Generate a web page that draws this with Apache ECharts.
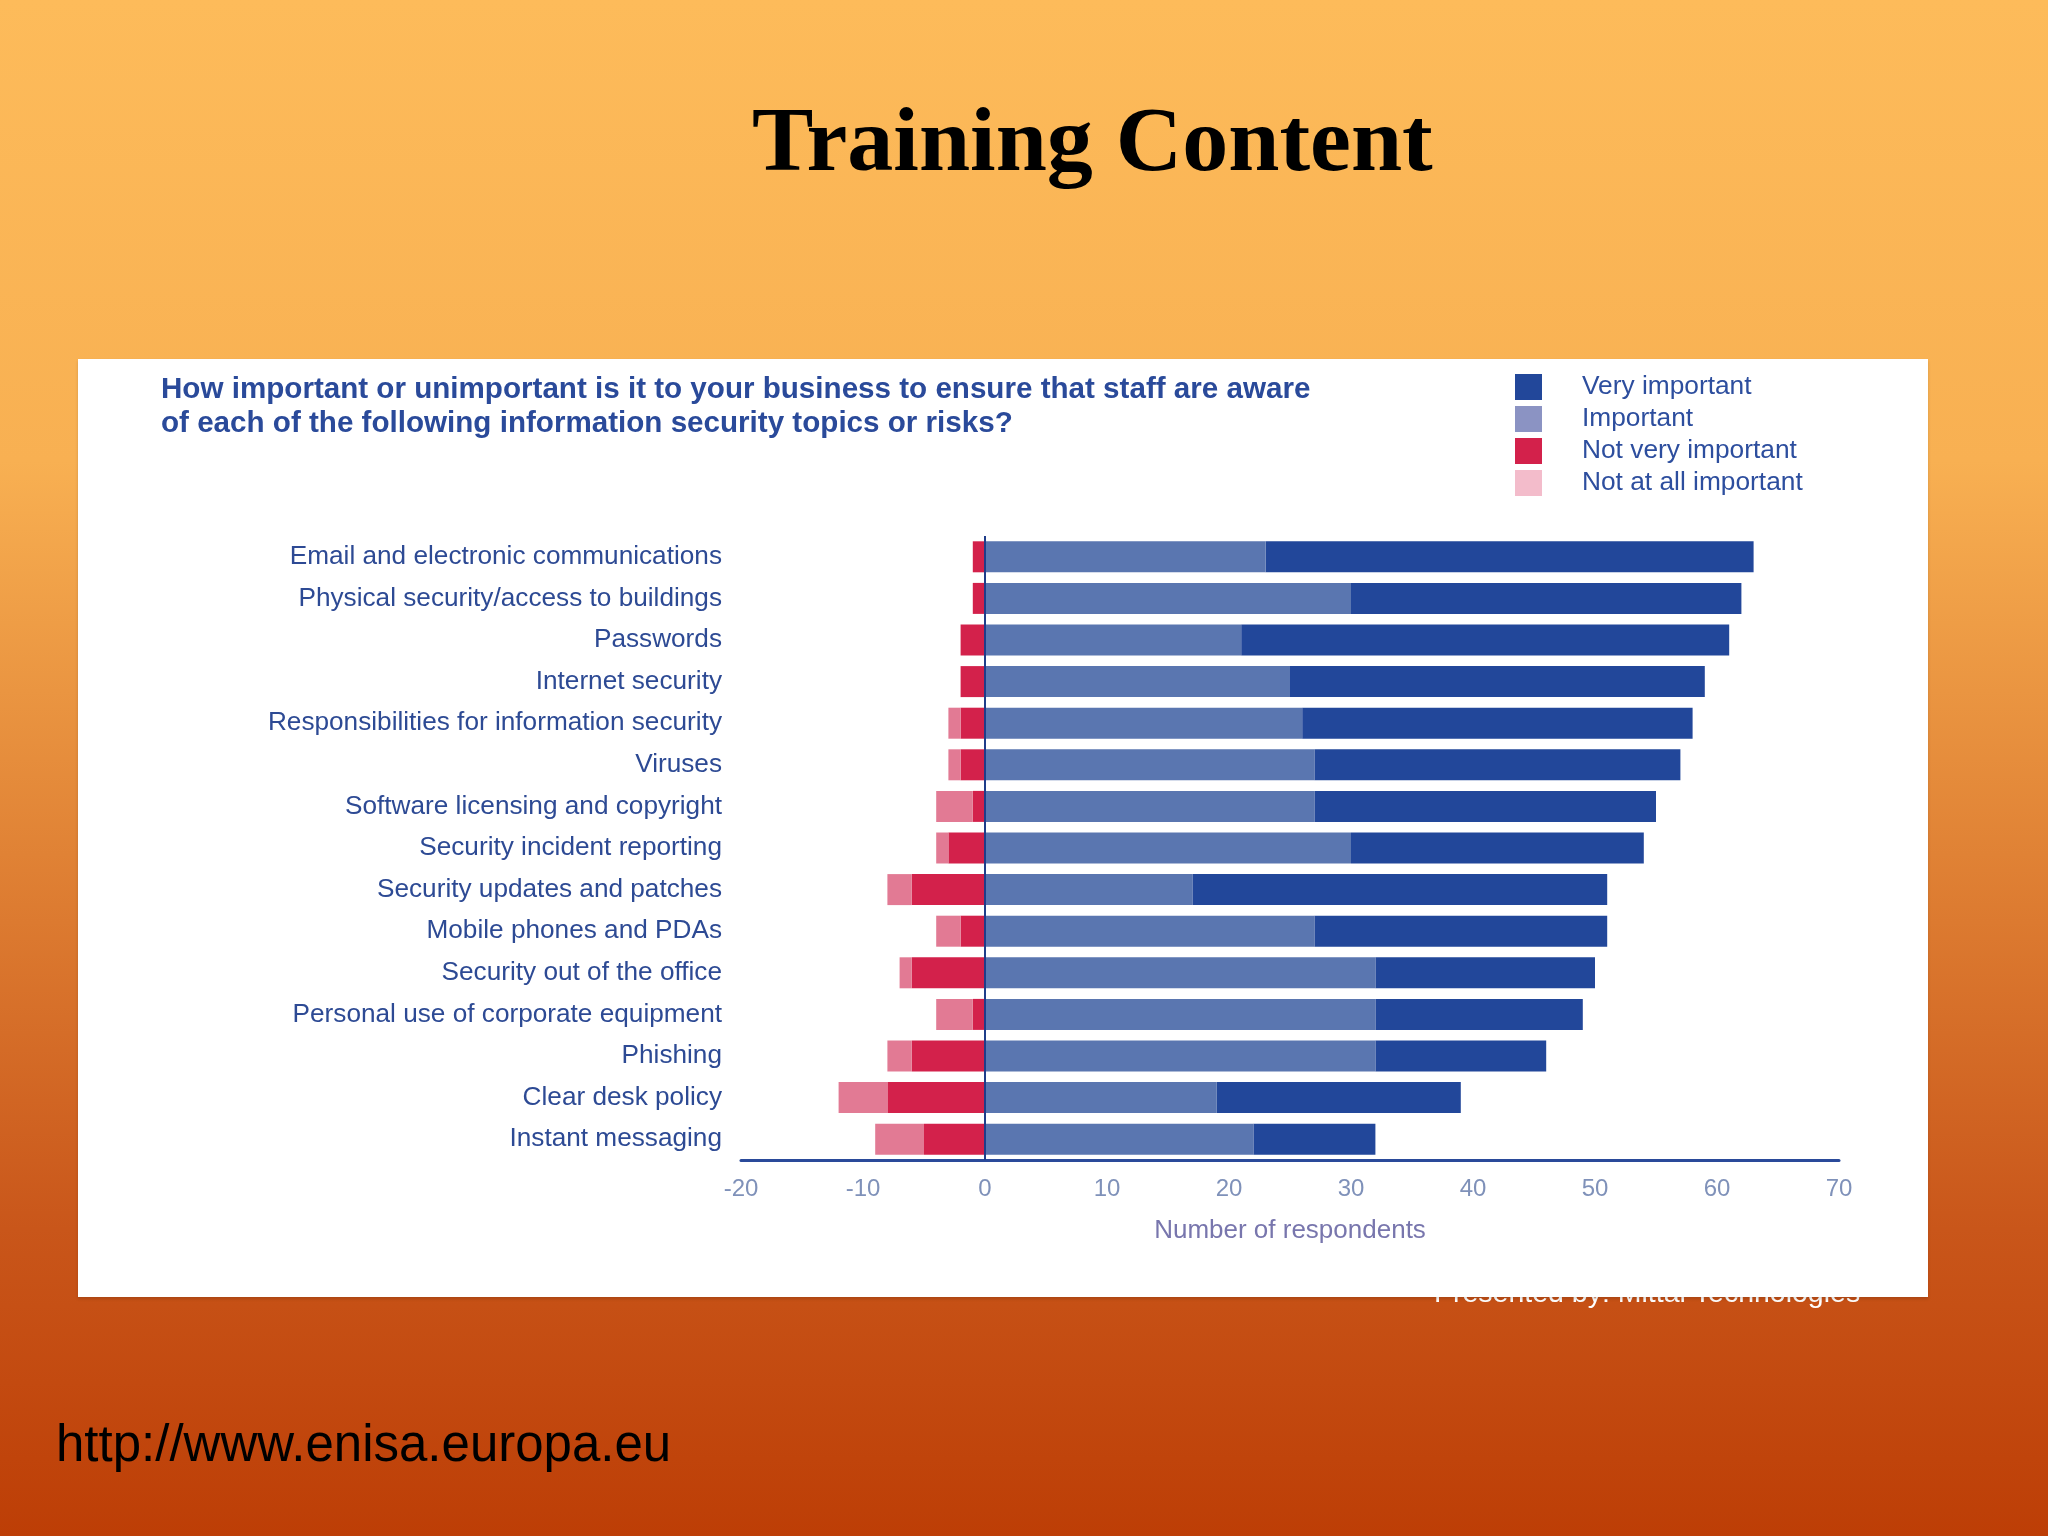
<!DOCTYPE html>
<html>
<head>
<meta charset="utf-8">
<style>
  html, body { margin: 0; padding: 0; width: 2048px; height: 1536px; overflow: hidden; }
  #chart { width: 2048px; height: 1536px; }
</style>
<script src="https://cdn.jsdelivr.net/npm/echarts@6/dist/echarts.min.js"></script>
</head>
<body>
<div id="chart"></div>
<script>
// ---- Data ----
const categories = [
  'Email and electronic communications',
  'Physical security/access to buildings',
  'Passwords',
  'Internet security',
  'Responsibilities for information security',
  'Viruses',
  'Software licensing and copyright',
  'Security incident reporting',
  'Security updates and patches',
  'Mobile phones and PDAs',
  'Security out of the office',
  'Personal use of corporate equipment',
  'Phishing',
  'Clear desk policy',
  'Instant messaging'
];
const important      = [23, 30, 21, 25, 26, 27, 27, 30, 17, 27, 32, 32, 32, 19, 22];
const veryImportant  = [40, 32, 40, 34, 32, 30, 28, 24, 34, 24, 18, 17, 14, 20, 10];
const notVeryImportant = [-1, -1, -2, -2, -2, -2, -1, -3, -6, -2, -6, -1, -6, -8, -5];
const notAtAllImportant = [0, 0, 0, 0, -1, -1, -3, -1, -2, -2, -1, -3, -2, -4, -4];
const xTicks = { min: -20, max: 70, interval: 10 };

const seriesNames = ['Very important', 'Important', 'Not very important', 'Not at all important'];
const barColors = {
  'Very important': '#22479a',
  'Important': '#5a76b0',
  'Not very important': '#d3214b',
  'Not at all important': '#e27a94'
};
const legendColors = {
  'Very important': '#22479a',
  'Important': '#8b93c3',
  'Not very important': '#d3214b',
  'Not at all important': '#f3bccb'
};

const chart = echarts.init(document.getElementById('chart'));

function bar(name, data, extra) {
  return Object.assign({
    name: name,
    type: 'bar',
    stack: 'total',
    data: data,
    barWidth: 31,
    itemStyle: { color: barColors[name] },
    emphasis: { disabled: true }
  }, extra || {});
}

const option = {
  backgroundColor: {
    type: 'linear', x: 0, y: 0, x2: 0, y2: 1,
    colorStops: [
      { offset: 0, color: '#fdbb5a' },
      { offset: 0.3, color: '#f8b052' },
      { offset: 0.6, color: '#dc7a30' },
      { offset: 0.8, color: '#c9561a' },
      { offset: 1, color: '#bd3e06' }
    ]
  },
  animation: false,
  textStyle: { fontFamily: 'Liberation Sans, Arial, sans-serif' },
  graphic: {
    elements: [
      {
        type: 'text', left: 1434, top: 1280, z: -3,
        style: { text: 'Presented by: Mittal Technologies', fill: '#ffffff',
                 font: '28.5px "Liberation Sans", Arial, sans-serif' }
      },
      {
        type: 'rect', shape: { x: 78, y: 359, width: 1850, height: 938 }, z: -2,
        style: { fill: '#ffffff', shadowColor: 'rgba(0,0,0,0.15)', shadowBlur: 3, shadowOffsetY: 2 }
      },
      {
        type: 'text', left: 56, top: 1421, z: -2,
        style: { text: 'http://www.enisa.europa.eu', fill: '#000000',
                 font: '51px "Liberation Sans", Arial, sans-serif' }
      }
    ]
  },
  title: [
    {
      text: 'Training Content',
      left: 752, top: 100,
      textStyle: { fontFamily: 'Liberation Serif, Times New Roman, serif', fontWeight: 'bold',
                   fontSize: 92, color: '#000000' },
      padding: 0
    },
    {
      text: 'How important or unimportant is it to your business to ensure that staff are aware\nof each of the following information security topics or risks?',
      left: 161, top: 373, padding: 0,
      textStyle: { fontFamily: 'Liberation Sans, Arial, sans-serif', fontWeight: 'bold',
                   fontSize: 29.6, lineHeight: 34, color: '#2a4a9a' }
    }
  ],
  legend: {
    orient: 'vertical',
    left: 1510, top: 369,
    itemWidth: 27, itemHeight: 26, itemGap: 6,
    icon: 'rect',
    selectedMode: false,
    data: seriesNames.map(n => ({ name: n, itemStyle: { color: legendColors[n] } })),
    textStyle: { fontSize: 26.3, color: '#2d4e9e', padding: [0, 0, 0, 35],
                 fontFamily: 'Liberation Sans, Arial, sans-serif' }
  },
  grid: { left: 741, right: 209, top: 536, bottom: 376, containLabel: false },
  xAxis: {
    type: 'value',
    min: xTicks.min, max: xTicks.max, interval: xTicks.interval,
    name: 'Number of respondents',
    nameLocation: 'middle', nameGap: 58,
    nameTextStyle: { fontSize: 26, color: '#7876ad' },
    axisLine: { show: true, onZero: false, lineStyle: { color: '#2a4a9a', width: 3 } },
    axisTick: { show: false },
    splitLine: { show: false },
    axisLabel: { fontSize: 24, color: '#7f91b9', margin: 17 }
  },
  yAxis: {
    type: 'category',
    data: categories,
    inverse: true,
    axisLine: { show: false },
    axisTick: { show: false },
    splitLine: { show: false },
    axisLabel: { fontSize: 26.2, color: '#2d4a94', margin: 19 }
  },
  series: [
    bar('Important', important, {
      markLine: {
        silent: true, symbol: 'none', label: { show: false },
        lineStyle: { color: '#1f3d8a', width: 2, type: 'solid' },
        data: [{ xAxis: 0 }]
      },
      z: 3
    }),
    bar('Very important', veryImportant),
    bar('Not very important', notVeryImportant),
    bar('Not at all important', notAtAllImportant)
  ]
};

chart.setOption(option);
</script>
</body>
</html>
